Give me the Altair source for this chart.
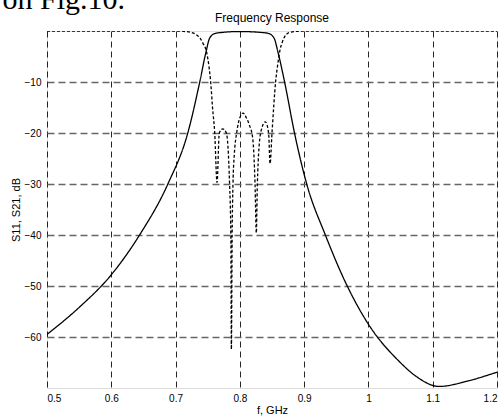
import altair as alt
import pandas as pd

# S21 (solid)
s21_f = [0.50, 0.55, 0.60, 0.644, 0.688, 0.719, 0.7376,
         0.747, 0.753, 0.761, 0.775, 0.80, 0.83, 0.845, 0.851, 0.854, 0.859, 0.8696,
         0.885, 0.904, 0.933, 0.967, 1.0, 1.048, 1.074, 1.110, 1.152, 1.20]
s21_db = [-59.5, -54.2, -47.8, -40.0, -30.0, -20.0, -10.0,
          -4.3, -1.4, -0.5, -0.25, -0.1, -0.25, -0.5, -1.0, -1.6, -4.0, -10.0,
          -20.0, -30.0, -40.0, -50.0, -57.5, -64.8, -67.7, -69.7, -68.7, -66.9]

# S11 (dashed)
s11_f = [0.50, 0.60, 0.70, 0.715, 0.725, 0.732, 0.738, 0.743, 0.748, 0.752, 0.7546,
         0.7575, 0.7609, 0.7645, 0.768, 0.7733, 0.779, 0.784, 0.786, 0.7868, 0.788,
         0.7893, 0.7915, 0.795, 0.800, 0.805, 0.810, 0.815, 0.820, 0.8236, 0.8256,
         0.8272, 0.8323, 0.8396, 0.8447, 0.847, 0.850, 0.8556, 0.859, 0.862, 0.866,
         0.872, 0.880, 0.890, 0.90, 1.0, 1.2]
s11_db = [0.0, 0.0, 0.0, -0.1, -0.3, -0.7, -1.4, -2.5, -4.0, -7.0, -10.0,
          -15.0, -20.0, -29.7, -20.0, -19.2, -20.0, -30.0, -40.0, -62.4, -40.0,
          -30.0, -24.0, -20.0, -17.0, -16.1, -17.0, -18.5, -21.0, -30.0, -39.6,
          -30.0, -20.0, -17.8, -20.0, -26.0, -20.0, -10.0, -6.5, -4.0, -2.2,
          -0.7, -0.2, -0.05, 0.0, 0.0, 0.0]

x_ticks = [0.5, 0.6, 0.7, 0.8, 0.9, 1.0, 1.1, 1.2]
y_ticks = [-60, -50, -40, -30, -20, -10]

df = pd.concat([
    pd.DataFrame({"f": s21_f, "db": s21_db, "s": "S21"}),
    pd.DataFrame({"f": s11_f, "db": s11_db, "s": "S11"}),
])

FONT = "Liberation Sans"

lines = alt.Chart(df).mark_line(color="black", strokeWidth=1.3, interpolate="monotone", clip=True).encode(
    x=alt.X("f:Q", scale=alt.Scale(domain=[0.5, 1.2], nice=False, zero=False),
            axis=alt.Axis(values=x_ticks, format="~g", title="f, GHz", grid=True,
                          gridColor="#000", gridDash=[6, 4], gridOpacity=0.85,
                          tickSize=0, labelPadding=5, titlePadding=1,
                          titleFontWeight="normal", domain=False)),
    y=alt.Y("db:Q", scale=alt.Scale(domain=[-70, 0], nice=False, zero=False),
            axis=alt.Axis(values=y_ticks, title="S11, S21, dB", grid=True,
                          gridColor="#666", gridDash=[7, 4], gridWidth=1.3,
                          tickSize=0, labelPadding=6, titlePadding=3,
                          titleFontWeight="normal", domain=False)),
    strokeDash=alt.StrokeDash("s:N", scale=alt.Scale(domain=["S21", "S11"], range=[[1, 0], [3, 2]]),
                              legend=None),
    detail="s:N",
)

note = alt.Chart(pd.DataFrame({"t": ["on Fig.10."]})).mark_text(
    font="Liberation Serif", fontSize=30, align="right", baseline="alphabetic", color="black"
).encode(x=alt.value(78), y=alt.value(-22), text="t:N")

title = alt.Chart(pd.DataFrame({"t": ["Frequency Response"]})).mark_text(
    font=FONT, fontSize=12, align="center", baseline="middle", color="black"
).encode(x=alt.value(225), y=alt.value(-13), text="t:N")

chart = alt.layer(lines, note, title).properties(
    width=450, height=357,
    autosize=alt.AutoSizeParams(type="none"),
    padding={"left": 47, "top": 31, "right": 7, "bottom": 28},
).configure_axis(
    labelFont=FONT, labelFontSize=9, labelColor="black",
    titleFont=FONT, titleFontSize=12, titleFontWeight="normal", titleColor="black",
).configure_view(stroke="black", strokeWidth=1.5).configure(background="white")

chart.save("out.html", embed_options={"renderer": "svg", "actions": False})
